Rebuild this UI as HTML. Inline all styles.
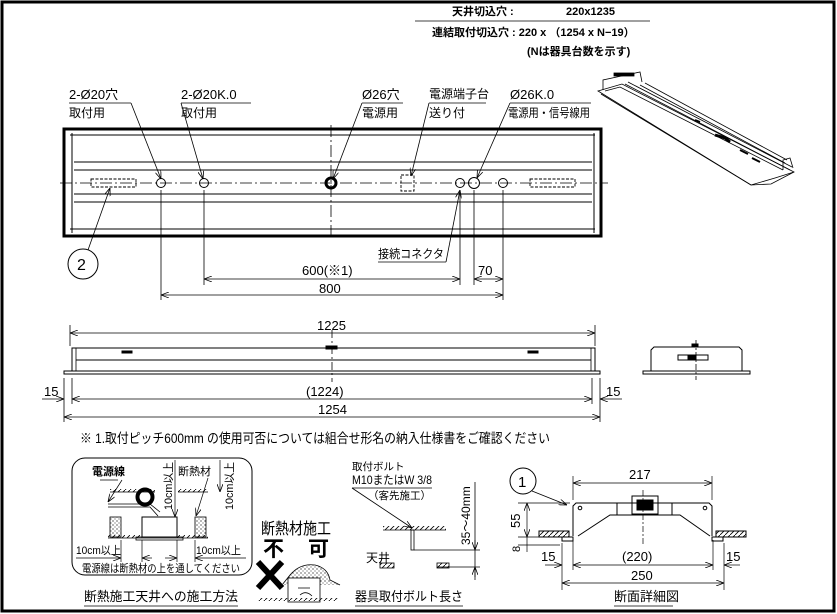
<!DOCTYPE html>
<html><head><meta charset="utf-8"><style>
html,body{margin:0;padding:0;background:#fff}
svg{display:block}
text{font-family:"Liberation Sans","Noto Sans CJK JP",sans-serif;fill:#000}
</style></head><body>
<svg width="837" height="614" viewBox="0 0 837 614" xmlns="http://www.w3.org/2000/svg">
<defs>
<marker id="a" markerWidth="8" markerHeight="6" refX="8" refY="3" orient="auto-start-reverse" markerUnits="userSpaceOnUse"><path d="M0,0 L8,3 L0,6" fill="none" stroke="#000" stroke-width="0.8"/></marker>
<pattern id="h" width="5" height="5" patternUnits="userSpaceOnUse"><path d="M0,5 L5,0" stroke="#000" stroke-width="0.8"/></pattern>
<pattern id="d" width="4" height="4" patternUnits="userSpaceOnUse"><rect width="4" height="4" fill="#fff"/><circle cx="1" cy="1" r="0.6"/><circle cx="3" cy="3" r="0.5"/></pattern>
</defs>
<rect x="2" y="2" width="832" height="609" fill="none" stroke="#000" stroke-width="3"/>

<!-- header -->
<g font-size="11" font-weight="bold">
<text x="452" y="15">天井切込穴 :</text><text x="566" y="15">220x1235</text>
<line x1="415" y1="21" x2="650" y2="21" stroke="#000" stroke-width="0.8"/>
<text x="432" y="36">連結取付切込穴 : 220 x （1254 x N−19）</text>
<text x="527" y="55">(Nは器具台数を示す)</text>
</g>

<!-- 3D view -->
<g fill="none" stroke="#000" stroke-width="0.8">
<path d="M598,91 L622,84 L794,172 L771,184 L751,185 Z" fill="#fff"/>
<path d="M601,94 L751,185"/>
<path d="M605,91 L620,87 L783,170"/>
<path d="M625,84 L790,170 M628,82 L792,167"/>
<path d="M640,85 L785,163 M645,83 L787,160"/>
<path d="M603,90 L603,80 L640,72 L642,82"/>
<path d="M783,170 L783,160 L790,158 L793,168"/>
<path d="M751,185 L775,178 L794,172"/>
<rect x="614" y="73" width="20" height="3" fill="#000"/>
<path d="M715,135 L725,138 L730,142" stroke-width="3"/>
<path d="M695,120 L700,122 M740,150 L748,154 M752,158 L760,162" stroke-width="2"/>
</g>

<!-- top view -->
<g fill="none" stroke="#000">
<rect x="64" y="129" width="537" height="107" stroke-width="3"/>
<line x1="70" y1="135" x2="595" y2="135" stroke-width="1"/>
<line x1="70" y1="229" x2="595" y2="229" stroke-width="1"/>
<line x1="74" y1="162" x2="592" y2="162" stroke-width="1"/>
<line x1="74" y1="170" x2="592" y2="170" stroke-width="1"/>
<line x1="74" y1="194" x2="592" y2="194" stroke-width="1"/>
<line x1="74" y1="202" x2="592" y2="202" stroke-width="1"/>
<line x1="72" y1="133" x2="72" y2="233" stroke-width="1"/>
<line x1="594" y1="133" x2="594" y2="233" stroke-width="1"/>
<line x1="60" y1="183" x2="608" y2="183" stroke-width="0.8" stroke-dasharray="12,3,2,3"/>
<line x1="331" y1="125" x2="331" y2="240" stroke-width="0.8" stroke-dasharray="12,3,2,3"/>
<rect x="91" y="179" width="45" height="8" stroke-dasharray="3,1.5" stroke-width="0.9"/>
<rect x="530" y="179" width="45" height="8" stroke-dasharray="3,1.5" stroke-width="0.9"/>
<rect x="401" y="175" width="13" height="16" stroke-dasharray="3,1.5" stroke-width="0.9"/>
<circle cx="161" cy="183" r="4.5" stroke-width="1"/>
<circle cx="204" cy="183" r="4.5" stroke-width="1"/>
<circle cx="331" cy="183" r="5" stroke-width="3"/>
<circle cx="460" cy="183" r="4.5" stroke-width="1"/>
<circle cx="474" cy="183" r="5.5" stroke-width="1"/>
<circle cx="503" cy="183" r="4.5" stroke-width="1"/>
<circle cx="83" cy="264" r="15" stroke-width="1"/>
<g stroke-width="0.8">
<line x1="69" y1="103" x2="131" y2="103"/><line x1="131" y1="103" x2="161" y2="179" marker-end="url(#a)"/>
<line x1="181" y1="103" x2="251" y2="103"/><line x1="181" y1="103" x2="203" y2="179" marker-end="url(#a)"/>
<line x1="362" y1="103" x2="403" y2="103"/><line x1="362" y1="103" x2="333" y2="179" marker-end="url(#a)"/>
<line x1="429" y1="103" x2="486" y2="103"/><line x1="429" y1="103" x2="411" y2="176" marker-end="url(#a)"/>
<line x1="510" y1="103" x2="591" y2="103"/><line x1="510" y1="103" x2="477" y2="178" marker-end="url(#a)"/>
<line x1="378" y1="262" x2="446" y2="262"/><line x1="446" y1="262" x2="460" y2="190" marker-end="url(#a)"/>
<line x1="88" y1="250" x2="110" y2="188" marker-end="url(#a)"/>
<line x1="161" y1="190" x2="161" y2="300"/>
<line x1="204" y1="190" x2="204" y2="285"/>
<line x1="460" y1="190" x2="460" y2="285"/>
<line x1="474" y1="190" x2="474" y2="285"/>
<line x1="503" y1="190" x2="503" y2="300"/>
<line x1="204" y1="279" x2="460" y2="279" marker-start="url(#a)" marker-end="url(#a)"/>
<line x1="474" y1="279" x2="503" y2="279" marker-start="url(#a)" marker-end="url(#a)"/>
<line x1="161" y1="295" x2="503" y2="295" marker-start="url(#a)" marker-end="url(#a)"/>
</g>
</g>
<g font-size="13">
<text x="69" y="99">2-Ø20穴</text><text x="69" y="117" font-size="12">取付用</text>
<text x="181" y="99">2-Ø20K.0</text><text x="181" y="117" font-size="12">取付用</text>
<text x="362" y="99">Ø26穴</text><text x="362" y="117" font-size="12">電源用</text>
<text x="429" y="98" font-size="12">電源端子台</text><text x="429" y="117" font-size="12">送り付</text>
<text x="510" y="99">Ø26K.0</text><text x="508" y="117" font-size="12" textLength="82" lengthAdjust="spacingAndGlyphs">電源用・信号線用</text>
<text x="378" y="258" font-size="12" textLength="66" lengthAdjust="spacingAndGlyphs">接続コネクタ</text>
<text x="302" y="275">600(※1)</text>
<text x="478" y="275">70</text>
<text x="319" y="293">800</text>
<text x="77" y="270" font-size="16">2</text>
</g>

<!-- side view -->
<g fill="none" stroke="#000">
<rect x="64" y="371" width="536" height="3" stroke-width="1"/>
<path d="M72,371 L72,348 L595,348 L595,371" stroke-width="1"/>
<line x1="76" y1="360" x2="591" y2="360" stroke-width="1"/>
<line x1="76" y1="348" x2="76" y2="371" stroke-width="0.8"/>
<line x1="591" y1="348" x2="591" y2="371" stroke-width="0.8"/>
<rect x="122" y="351" width="10" height="2" fill="#000"/>
<rect x="528" y="351" width="10" height="2" fill="#000"/>
<rect x="326" y="346" width="11" height="3" fill="#000"/>
<line x1="332" y1="330" x2="332" y2="382" stroke-width="0.8" stroke-dasharray="8,3,2,3"/>
<g stroke-width="0.8">
<line x1="70" y1="325" x2="70" y2="346"/><line x1="595" y1="325" x2="595" y2="346"/>
<line x1="70" y1="333" x2="595" y2="333" marker-start="url(#a)" marker-end="url(#a)"/>
<line x1="64" y1="378" x2="64" y2="422"/><line x1="600" y1="378" x2="600" y2="422"/>
<line x1="72" y1="378" x2="72" y2="404"/><line x1="592" y1="378" x2="592" y2="404"/>
<line x1="72" y1="399" x2="592" y2="399" marker-start="url(#a)" marker-end="url(#a)"/>
<line x1="42" y1="399" x2="64" y2="399" marker-end="url(#a)"/>
<line x1="622" y1="399" x2="600" y2="399" marker-end="url(#a)"/>
<line x1="64" y1="417" x2="600" y2="417" marker-start="url(#a)" marker-end="url(#a)"/>
</g>
</g>
<g font-size="13">
<text x="317" y="330">1225</text>
<text x="306" y="396">(1224)</text>
<text x="318" y="414">1254</text>
<text x="44" y="396">15</text><text x="606" y="396">15</text>
</g>

<!-- end view -->
<g fill="none" stroke="#000" stroke-width="1">
<rect x="643" y="371" width="107" height="3"/>
<path d="M651,371 L651,350 L654,347 L739,347 L742,350 L742,371"/>
<rect x="678" y="355" width="30" height="5"/>
<rect x="688" y="355" width="8" height="5" fill="#000"/>
<rect x="692" y="344" width="6" height="3" fill="#000"/>
<line x1="696" y1="340" x2="696" y2="380" stroke-width="0.8" stroke-dasharray="6,2,2,2"/>
</g>

<text x="80" y="443" font-size="13.5" textLength="470" lengthAdjust="spacingAndGlyphs">※ 1.取付ピッチ600mm の使用可否については組合せ形名の納入仕様書をご確認ください</text>

<!-- left box -->
<g fill="none" stroke="#000">
<rect x="72" y="458" width="180" height="117" rx="13" stroke-width="1"/>
<rect x="110" y="489" width="45" height="3" fill="url(#h)" stroke="none"/>
<line x1="110" y1="492" x2="155" y2="492" stroke-width="0.8"/>
<rect x="178" y="489" width="30" height="3" fill="url(#h)" stroke="none"/>
<line x1="178" y1="492" x2="208" y2="492" stroke-width="0.8"/>
<path d="M108,504 L150,504 L160,512 M108,507 L150,507 L158,516" stroke-width="0.8"/>
<circle cx="145" cy="497" r="7.5" stroke-width="4"/>
<rect x="110" y="517" width="11" height="20" fill="url(#d)" stroke-width="0.8"/>
<rect x="195" y="517" width="11" height="20" fill="url(#d)" stroke-width="0.8"/>
<rect x="142" y="517" width="35" height="20" stroke-width="1"/>
<rect x="136" y="537" width="47" height="3" stroke-width="0.8"/>
<rect x="108" y="535" width="34" height="3" fill="url(#h)" stroke="none"/>
<rect x="177" y="535" width="31" height="3" fill="url(#h)" stroke="none"/>
<line x1="108" y1="538" x2="208" y2="538" stroke-width="0.8"/>
<g stroke-width="0.7">
<line x1="100" y1="480" x2="118" y2="480"/><line x1="122" y1="480" x2="108" y2="502" marker-end="url(#a)"/>
<line x1="175" y1="460" x2="175" y2="517" marker-end="url(#a)"/>
<line x1="208" y1="478" x2="196" y2="516" marker-end="url(#a)"/>
<line x1="220" y1="460" x2="220" y2="492" marker-end="url(#a)"/>
<line x1="76" y1="558" x2="121" y2="558" marker-end="url(#a)"/>
<line x1="195" y1="558" x2="246" y2="558" marker-start="url(#a)"/>
<line x1="142" y1="558" x2="152" y2="558" marker-start="url(#a)"/>
<line x1="165" y1="558" x2="177" y2="558" marker-end="url(#a)"/>
<line x1="121" y1="540" x2="121" y2="562"/><line x1="195" y1="540" x2="195" y2="562"/>
<line x1="142" y1="540" x2="142" y2="562"/><line x1="177" y1="540" x2="177" y2="562"/>
</g>
</g>
<g font-size="11">
<text x="92" y="475" font-weight="bold">電源線</text>
<text x="178" y="475">断熱材</text>
<text transform="translate(172,510) rotate(-90)" font-size="11" textLength="48" lengthAdjust="spacingAndGlyphs">10cm以上</text>
<text transform="translate(233,510) rotate(-90)" font-size="11" textLength="48" lengthAdjust="spacingAndGlyphs">10cm以上</text>
<text x="76" y="554" textLength="45" lengthAdjust="spacingAndGlyphs">10cm以上</text>
<text x="196" y="554" textLength="45" lengthAdjust="spacingAndGlyphs">10cm以上</text>
<text x="82" y="572" textLength="158" lengthAdjust="spacingAndGlyphs">電源線は断熱材の上を通してください</text>
</g>
<text x="261" y="534" font-size="16" textLength="70" lengthAdjust="spacingAndGlyphs">断熱材施工</text>
<text x="263" y="556" font-size="21" font-weight="bold">不</text>
<text x="308" y="556" font-size="21" font-weight="bold">可</text>
<path d="M258,562 L282,588 M282,562 L258,588" stroke="#000" stroke-width="6"/>
<g fill="none" stroke="#000" stroke-width="0.8">
<path d="M282,585 L290,575 Q300,563 315,565 Q328,568 330,580 L340,585" fill="url(#d)"/>
<rect x="288" y="578" width="32" height="24" fill="#fff"/>
<path d="M298,588 L310,588 M300,595 Q306,590 312,596"/>
<rect x="258" y="598" width="80" height="3" fill="url(#h)" stroke="none"/>
</g>
<g font-size="13">
<text x="84" y="601" textLength="154" lengthAdjust="spacingAndGlyphs">断熱施工天井への施工方法</text>
<line x1="84" y1="606" x2="238" y2="606" stroke="#000" stroke-width="0.8"/>
<text x="355" y="601" textLength="108" lengthAdjust="spacingAndGlyphs">器具取付ボルト長さ</text>
<line x1="355" y1="606" x2="463" y2="606" stroke="#000" stroke-width="0.8"/>
<text x="614" y="601">断面詳細図</text>
<line x1="614" y1="606" x2="673" y2="606" stroke="#000" stroke-width="0.8"/>
</g>

<!-- bolt -->
<g font-size="10.5">
<text x="352" y="470">取付ボルト</text>
<text x="352" y="484" font-size="12" textLength="80" lengthAdjust="spacingAndGlyphs">M10またはW 3/8</text>
<text x="368" y="499">（客先施工）</text>
<text x="366" y="562" font-size="12">天井</text>
<text transform="translate(470,545) rotate(-90)" font-size="12">35～40mm</text>
</g>
<g fill="none" stroke="#000" stroke-width="0.8">
<line x1="352" y1="488" x2="432" y2="488"/>
<line x1="352" y1="488" x2="412" y2="528" marker-end="url(#a)"/>
<rect x="383" y="526" width="63" height="4" fill="url(#h)" stroke="none"/>
<line x1="383" y1="530" x2="446" y2="530"/>
<rect x="411" y="530" width="3" height="20"/>
<line x1="414" y1="550" x2="480" y2="550"/>
<line x1="437" y1="567" x2="480" y2="567"/>
<rect x="380" y="563" width="14" height="5" fill="url(#h)"/>
<rect x="437" y="563" width="12" height="5" fill="url(#h)"/>
<line x1="475" y1="482" x2="475" y2="580"/>
<line x1="475" y1="540" x2="475" y2="550" marker-end="url(#a)"/>
<line x1="475" y1="577" x2="475" y2="567" marker-end="url(#a)"/>
</g>

<!-- section detail -->
<g fill="none" stroke="#000" stroke-width="1">
<circle cx="523" cy="481" r="13"/>
<path d="M532,491 L567,505" marker-end="url(#a)" stroke-width="0.8"/>
<path d="M573,536 L573,506 L576,503 L709,503 L712,506 L712,536"/>
<path d="M578,536 L610,515 L680,515 L710,536"/>
<rect x="617" y="503" width="55" height="12"/>
<rect x="632" y="496" width="26" height="18"/>
<rect x="637" y="500" width="16" height="10" fill="#000"/>
<circle cx="580" cy="508" r="1.8"/><circle cx="705" cy="508" r="1.8"/>
<line x1="643" y1="490" x2="643" y2="545" stroke-dasharray="6,2,2,2" stroke-width="0.7"/>
<rect x="539" y="531" width="30" height="6" fill="url(#h)"/>
<rect x="716" y="531" width="30" height="6" fill="url(#h)"/>
<rect x="562" y="537" width="11" height="4"/><rect x="712" y="537" width="11" height="4"/>
<g stroke-width="0.7">
<line x1="573" y1="476" x2="573" y2="500"/><line x1="712" y1="476" x2="712" y2="500"/>
<line x1="573" y1="483" x2="712" y2="483" marker-start="url(#a)" marker-end="url(#a)"/>
<line x1="518" y1="503" x2="570" y2="503"/><line x1="518" y1="537" x2="560" y2="537"/><line x1="518" y1="545" x2="560" y2="545"/>
<line x1="527" y1="503" x2="527" y2="537" marker-start="url(#a)" marker-end="url(#a)"/>
<line x1="527" y1="537" x2="527" y2="552"/>
<line x1="562" y1="543" x2="562" y2="590"/><line x1="724" y1="543" x2="724" y2="590"/>
<line x1="573" y1="540" x2="573" y2="570"/><line x1="713" y1="540" x2="713" y2="570"/>
<line x1="573" y1="565" x2="713" y2="565" marker-start="url(#a)" marker-end="url(#a)"/>
<line x1="545" y1="565" x2="562" y2="565" marker-end="url(#a)"/>
<line x1="740" y1="565" x2="724" y2="565" marker-end="url(#a)"/>
<line x1="562" y1="583" x2="724" y2="583" marker-start="url(#a)" marker-end="url(#a)"/>
</g>
</g>
<g font-size="13">
<text x="629" y="479">217</text>
<text transform="translate(520,528) rotate(-90)">55</text>
<text transform="translate(520,552) rotate(-90)" font-size="11">8</text>
<text x="541" y="561">15</text><text x="726" y="561">15</text>
<text x="622" y="561">(220)</text>
<text x="631" y="580">250</text>
<text x="518" y="487" font-size="15">1</text>
</g>
</svg>
</body></html>
